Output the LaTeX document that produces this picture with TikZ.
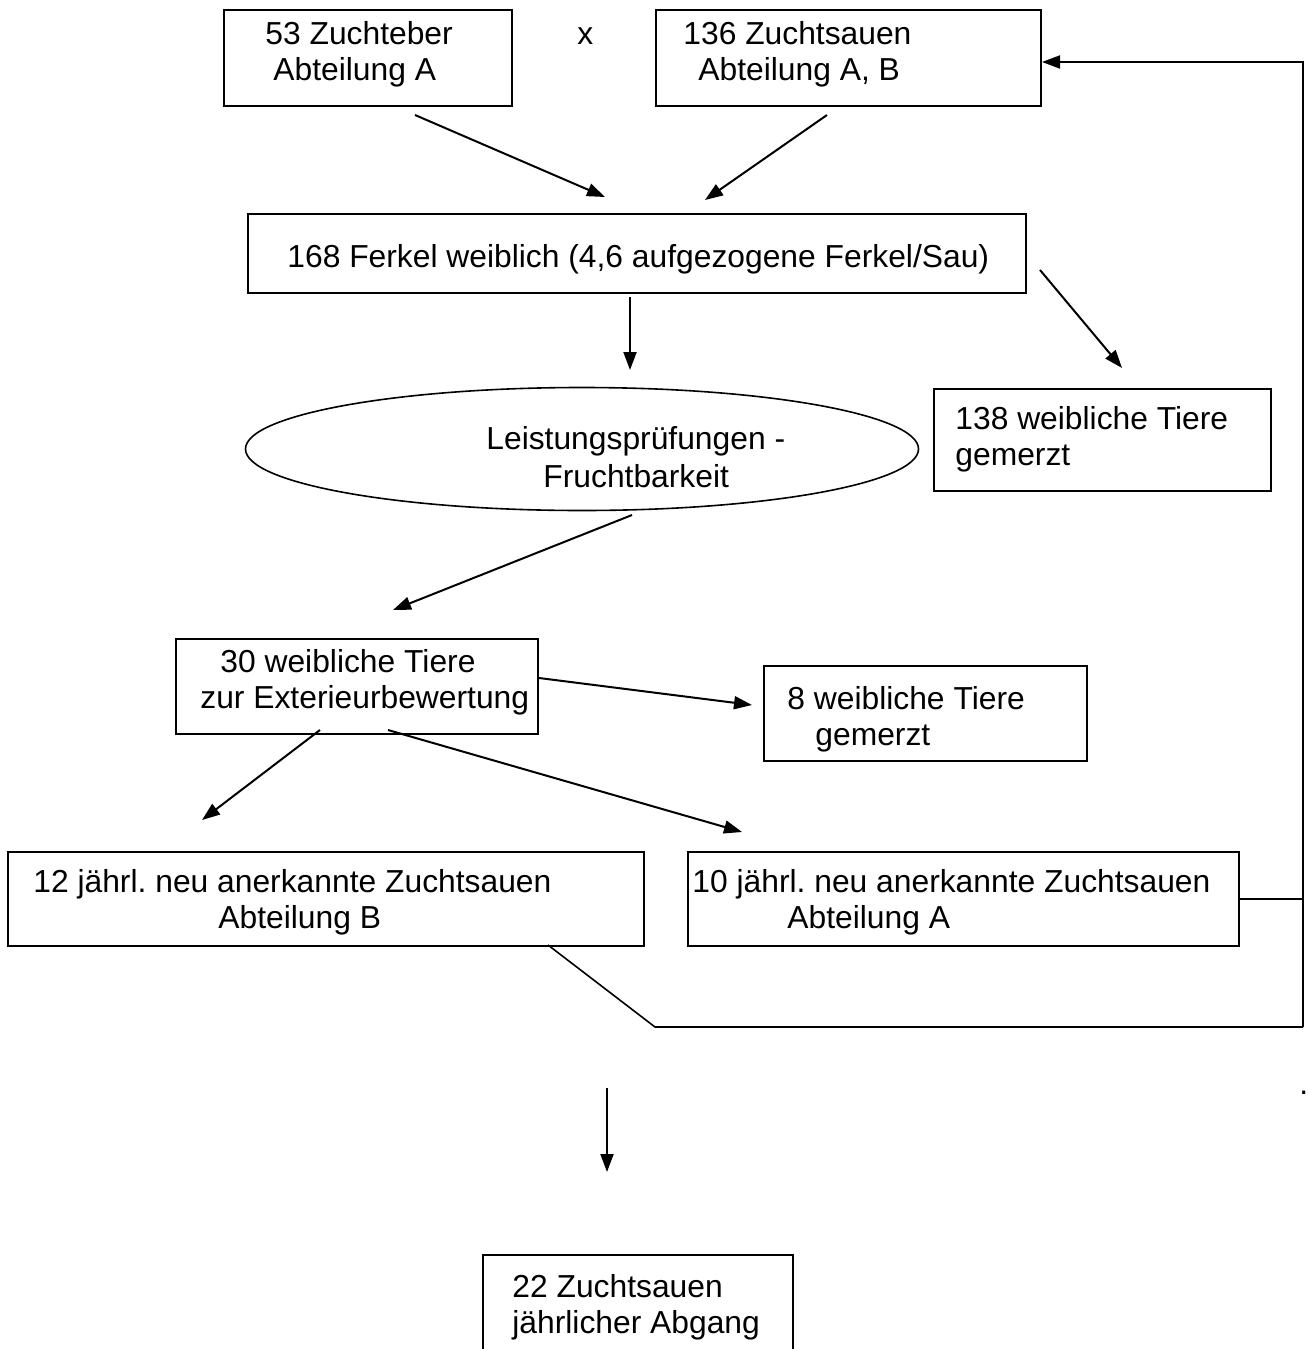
\documentclass[tikz,border=0pt]{standalone}
\usepackage{fontspec}
\setmainfont{Liberation Sans}
\usetikzlibrary{arrows.meta,shapes.geometric}
\frenchspacing
\begin{document}
\begin{tikzpicture}[x=0.5pt,y=-0.5pt,
  box/.style={draw,line width=1pt,rectangle,inner sep=0pt,anchor=north west},
  oval/.style={draw,line width=0.8pt,ellipse,inner sep=0pt},
  txt/.style={anchor=base west,inner sep=0pt,font=\fontsize{15.9}{18.5}\selectfont},
  arr/.style={line width=1pt,-{Triangle[length=9pt,width=6.5pt]}},
  ln/.style={line width=0.8pt}]
\useasboundingbox (0,0) rectangle (1308,1349);
\clip (0,0) rectangle (1308,1349);
\fill[white] (0,0) rectangle (1308,1349);

% boxes
\node[box,minimum width=144pt,minimum height=48pt] (b1) at (223,9) {};
\node[box,minimum width=192.5pt,minimum height=48pt] (b2) at (655,9) {};
\node[box,minimum width=389pt,minimum height=39.5pt] (b3) at (247,213) {};
\node[oval,minimum width=336.5pt,minimum height=61.5pt] (el) at (582,449) {};
\node[box,minimum width=168.5pt,minimum height=51pt] (b4) at (933,388) {};
\node[box,minimum width=181pt,minimum height=47.5pt] (b5) at (175,638) {};
\node[box,minimum width=161.5pt,minimum height=47.5pt] (b6) at (763,665) {};
\node[box,minimum width=318pt,minimum height=47pt] (b7) at (7,851) {};
\node[box,minimum width=275.5pt,minimum height=47pt] (b8) at (687,851) {};
\node[box,minimum width=155pt,minimum height=70pt] (b9) at (482,1254) {};

% texts
\node[txt] (t1a) at (265,44) {53 Zuchteber};
\node[txt] (t1b) at (273,80) {Abteilung A};
\node[txt] (tx) at (577,44) {x};
\node[txt] (t2a) at (683,44) {136 Zuchtsauen};
\node[txt] (t2b) at (698,80) {Abteilung A, B};
\node[txt] (t3) at (287,267) {168 Ferkel weiblich (4,6 aufgezogene Ferkel/Sau)};
\node[txt] (tea) at (486,449) {Leistungsprüfungen -};
\node[txt] (teb) at (543,487) {Fruchtbarkeit};
\node[txt] (t4a) at (955,429) {138 weibliche Tiere};
\node[txt] (t4b) at (955,465) {gemerzt};
\node[txt] (t5a) at (220,672) {30 weibliche Tiere};
\node[txt] (t5b) at (200,708) {zur Exterieurbewertung};
\node[txt] (t6a) at (787,709) {8 weibliche Tiere};
\node[txt] (t6b) at (815,745) {gemerzt};
\node[txt] (t7a) at (33,892) {12 jährl. neu anerkannte Zuchtsauen};
\node[txt] (t7b) at (218,928) {Abteilung B};
\node[txt] (t8a) at (692,892) {10 jährl. neu anerkannte Zuchtsauen};
\node[txt] (t8b) at (787,928) {Abteilung A};
\node[txt] (t9a) at (512,1297) {22 Zuchtsauen};
\node[txt] (t9b) at (512,1333) {jährlicher Abgang};
\node[txt] (dot) at (1299,1094) {.};

% arrow end points
\coordinate (a1s) at (415,115);  \coordinate (a1e) at (605,197);
\coordinate (a2s) at (827,115);  \coordinate (a2e) at (705,200);
\coordinate (a3s) at (630,297);  \coordinate (a3e) at (630,370);
\coordinate (a4s) at (1040,270); \coordinate (a4e) at (1122,368);
\coordinate (a5s) at (632,515);  \coordinate (a5e) at (393,610);
\coordinate (a6e) at (752,705);
\coordinate (a7s) at (320,730);  \coordinate (a7e) at (202,820);
\coordinate (a8s) at (388,730);  \coordinate (a8e) at (742,832);
\coordinate (a9s) at (607,1088); \coordinate (a9e) at (607,1172);
\coordinate (r1) at (1303,62);
\coordinate (r3) at (1303,1027);
\coordinate (k) at (655,1027);
\coordinate (s12) at (548,945);

\draw[arr] (a1s) -- (a1e);
\draw[arr] (a2s) -- (a2e);
\draw[arr] (a3s) -- (a3e);
\draw[arr] (a4s) -- (a4e);
\draw[arr] (a5s) -- (a5e);
\draw[arr] (b5.east |- 0,678) -- (a6e);
\draw[arr] (a7s) -- (a7e);
\draw[arr] (a8s) -- (a8e);
\draw[arr] (a9s) -- (a9e);

% feedback lines
\draw[arr] (r3) -- (r1) -- (r1 -| b2.east);
\draw[ln] (b8.east) -- (b8.east -| r3);
\draw[ln] (s12) -- (k) -- (r3);
\end{tikzpicture}
\end{document}
